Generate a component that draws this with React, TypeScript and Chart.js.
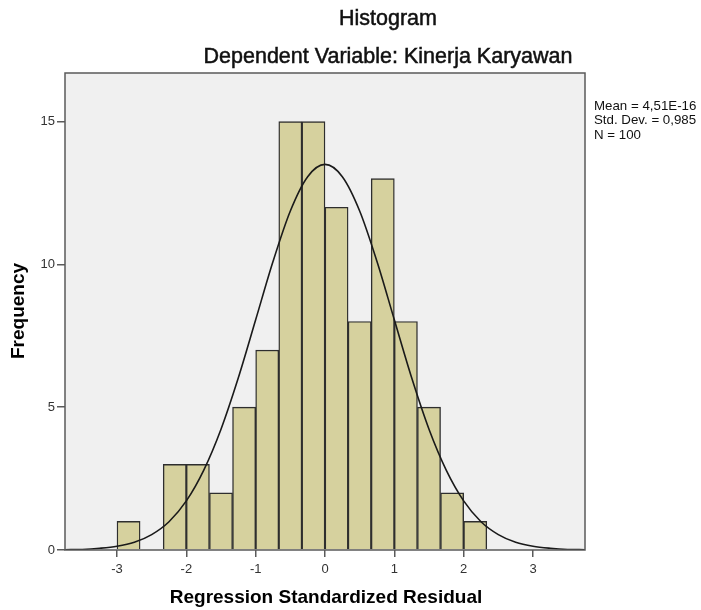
import React, { useEffect, useRef } from "react";
import { Chart, registerables } from "chart.js";

Chart.register(...registerables);

// Histogram bins (centers of 1/3-wide bins) and frequencies
const binCenters = [-2.8333, -2.5, -2.1667, -1.8333, -1.5, -1.1667, -0.8333, -0.5, -0.1667, 0.1667, 0.5, 0.8333, 1.1667, 1.5, 1.8333, 2.1667];
const frequencies = [1, null, 3, 3, 2, 5, 7, 15, 15, 12, 8, 13, 8, 5, 2, 1];

// Normal curve
const curveX = [-3.75, -3.5, -3.25, -3, -2.75, -2.5, -2.25, -2, -1.75, -1.5, -1.25, -1, -0.75, -0.5, -0.25, 0, 0.25, 0.5, 0.75, 1, 1.25, 1.5, 1.75, 2, 2.25, 2.5, 2.75, 3, 3.25, 3.5, 3.75];
const curveY = [0.01, 0.02, 0.06, 0.13, 0.27, 0.54, 0.99, 1.72, 2.79, 4.23, 6.03, 8.06, 10.1, 11.87, 13.07, 13.5, 13.07, 11.87, 10.1, 8.06, 6.03, 4.23, 2.79, 1.72, 0.99, 0.54, 0.27, 0.13, 0.06, 0.02, 0.01];

const xTicks = [-3, -2, -1, 0, 1, 2, 3];
const yTicks = [0, 5, 10, 15];

const titleText = "Histogram";
const subtitleText = "Dependent Variable: Kinerja Karyawan";
const xTitle = "Regression Standardized Residual";
const yTitle = "Frequency";
const statsLines = ["Mean = 4,51E-16", "Std. Dev. = 0,985", "N = 100"];

const FONT = "'Liberation Sans', Arial, sans-serif";

const decorPlugin = {
  id: "decor",
  beforeDraw(chart: any) {
    const { ctx, chartArea } = chart;
    ctx.save();
    ctx.fillStyle = "#ffffff";
    ctx.fillRect(0, 0, chart.width, chart.height);
    ctx.fillStyle = "#f0f0f0";
    ctx.fillRect(chartArea.left, chartArea.top, chartArea.right - chartArea.left, chartArea.bottom - chartArea.top);
    ctx.restore();
  },
  afterDraw(chart: any) {
    const { ctx, chartArea } = chart;
    ctx.save();
    ctx.strokeStyle = "#5a5a5a";
    ctx.lineWidth = 1.5;
    ctx.strokeRect(chartArea.left, chartArea.top, chartArea.right - chartArea.left, chartArea.bottom - chartArea.top);

    ctx.fillStyle = "#111";
    ctx.strokeStyle = "#111";
    ctx.lineWidth = 0.5;
    ctx.textAlign = "center";
    ctx.textBaseline = "middle";
    ctx.font = `21.5px ${FONT}`;
    ctx.fillText(titleText, 388, 19);
    ctx.strokeText(titleText, 388, 19);
    ctx.fillText(subtitleText, 388, 57);
    ctx.strokeText(subtitleText, 388, 57);

    ctx.fillStyle = "#000";
    ctx.font = `bold 19px ${FONT}`;
    ctx.fillText(xTitle, 326, 598);
    ctx.save();
    ctx.translate(19, 311);
    ctx.rotate(-Math.PI / 2);
    ctx.fillText(yTitle, 0, 0);
    ctx.restore();

    ctx.textAlign = "left";
    ctx.fillStyle = "#111";
    ctx.font = `13.3px ${FONT}`;
    statsLines.forEach((s, i) => ctx.fillText(s, 594, 106.5 + i * 14.3));
    ctx.restore();
  },
};

export default function App() {
  const ref = useRef<HTMLCanvasElement>(null);
  useEffect(() => {
    if (!ref.current) return;
    const chart = new Chart(ref.current, {
      type: "bar",
      data: {
        datasets: [
          {
            type: "bar",
            data: binCenters.map((x, i) => ({ x, y: frequencies[i] })) as any,
            backgroundColor: "rgba(214, 209, 158, 1)",
            borderColor: "#2e2e2e",
            borderWidth: 1.4,
            barPercentage: 1,
            categoryPercentage: 1,
            grouped: false,
            order: 2,
          } as any,
          {
            type: "line",
            data: curveX.map((x, i) => ({ x, y: curveY[i] })) as any,
            borderColor: "#1a1a1a",
            borderWidth: 1.6,
            pointRadius: 0,
            tension: 0.4,
            cubicInterpolationMode: "monotone",
            fill: false,
            order: 1,
          } as any,
        ],
      },
      options: {
        animation: false,
        responsive: false,
        maintainAspectRatio: false,
        layout: { padding: { left: 0, right: 116, top: 73, bottom: 0 } },
        plugins: { legend: { display: false }, tooltip: { enabled: false }, title: { display: false } },
        scales: {
          x: {
            type: "linear",
            min: -3.75,
            max: 3.75,
            offset: false,
            afterBuildTicks: (s: any) => { s.ticks = xTicks.map((v) => ({ value: v })); },
            afterFit: (s: any) => { s.height = 60; },
            ticks: { color: "#333", font: { family: FONT, size: 13 }, padding: 5 },
            grid: { display: true, offset: false, drawOnChartArea: false, drawTicks: true, tickLength: 7, color: "#5a5a5a", lineWidth: 1.5 },
            border: { display: false },
          },
          y: {
            type: "linear",
            min: 0,
            max: 16.7,
            afterBuildTicks: (s: any) => { s.ticks = yTicks.map((v) => ({ value: v })); },
            afterFit: (s: any) => { s.width = 65; },
            ticks: { color: "#333", font: { family: FONT, size: 13 }, padding: 2 },
            grid: { display: true, offset: false, drawOnChartArea: false, drawTicks: true, tickLength: 8, color: "#5a5a5a", lineWidth: 1.5 },
            border: { display: false },
          },
        },
      },
      plugins: [decorPlugin],
    });
    return () => chart.destroy();
  }, []);
  return (
    <div style={{ position: "absolute", left: 0, top: 0, width: 701, height: 610 }}>
      <canvas ref={ref} width={701} height={610} style={{ width: 701, height: 610 }} />
    </div>
  );
}
